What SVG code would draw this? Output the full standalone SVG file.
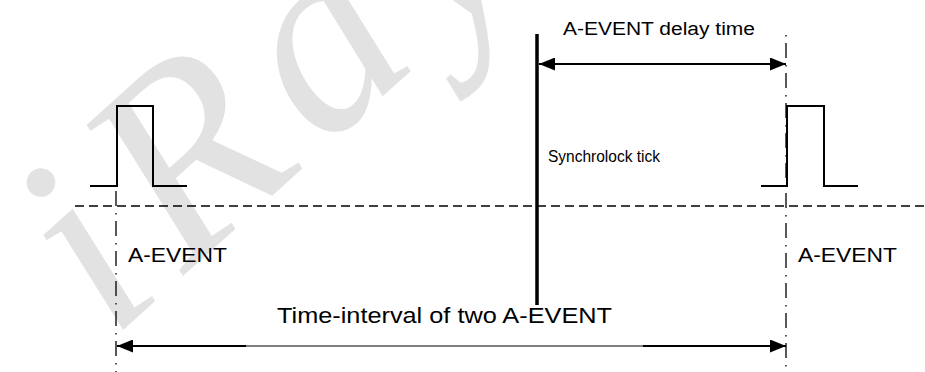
<svg xmlns="http://www.w3.org/2000/svg" width="925" height="372" viewBox="0 0 925 372">
<style>
.wm{font-family:"Liberation Serif",serif;font-style:italic;font-size:270px;fill:#e2e2e2;letter-spacing:22px}
.lbl{font-family:"Liberation Sans",Arial,sans-serif;fill:#000}
.pulse{fill:none;stroke:#000;stroke-width:2}
.dd{fill:none;stroke:#000;stroke-width:1.3;stroke-dasharray:15 7 1.5 6.5}
.arr{stroke:#000;fill:none}
</style>
<defs>
<marker id="ah" viewBox="0 0 16 13" refX="16" refY="6.5" markerWidth="16" markerHeight="13" markerUnits="userSpaceOnUse" orient="auto-start-reverse">
<path d="M0,0 L16,6.5 L0,13 z" fill="#000"/>
</marker>
</defs>
<g id="watermark">
<text class="wm" transform="translate(112,340) rotate(-42)">iRay</text>
</g>
<g id="baseline">
<line x1="75" y1="206" x2="925" y2="206" stroke="#000" stroke-width="1.5" stroke-dasharray="9 5"/>
</g>
<g id="event-left">
<polyline class="pulse" points="90,186 117,186 117,106 153,106 153,186 187,186"/>
<line class="dd" x1="116" y1="191" x2="116" y2="372"/>
<text class="lbl" x="128" y="262" font-size="21" textLength="99" lengthAdjust="spacingAndGlyphs">A-EVENT</text>
</g>
<g id="event-right">
<polyline class="pulse" points="761,186 787,186 787,106 824,106 824,186 858,186"/>
<line class="dd" x1="786" y1="33" x2="786" y2="372" stroke-dashoffset="20"/>
<text class="lbl" x="798" y="262" font-size="21" textLength="99" lengthAdjust="spacingAndGlyphs">A-EVENT</text>
</g>
<g id="sync-tick">
<line x1="537" y1="34" x2="537" y2="305" stroke="#000" stroke-width="3.5"/>
<text class="lbl" x="548" y="162" font-size="16" textLength="112" lengthAdjust="spacingAndGlyphs">Synchrolock tick</text>
</g>
<g id="connectors">
<line class="arr" x1="539" y1="64" x2="786" y2="64" stroke-width="2" marker-start="url(#ah)" marker-end="url(#ah)"/>
<line class="arr" x1="117" y1="346" x2="246" y2="346" stroke-width="2" marker-start="url(#ah)"/>
<line class="arr" x1="246" y1="346" x2="643" y2="346" stroke-width="1"/>
<line class="arr" x1="643" y1="346" x2="786" y2="346" stroke-width="2" marker-end="url(#ah)"/>
</g>
<g id="labels">
<text class="lbl" x="563" y="35" font-size="18" textLength="192" lengthAdjust="spacingAndGlyphs">A-EVENT delay time</text>
<text class="lbl" x="277" y="323" font-size="22" textLength="335" lengthAdjust="spacingAndGlyphs">Time-interval of two A-EVENT</text>
</g>
</svg>
